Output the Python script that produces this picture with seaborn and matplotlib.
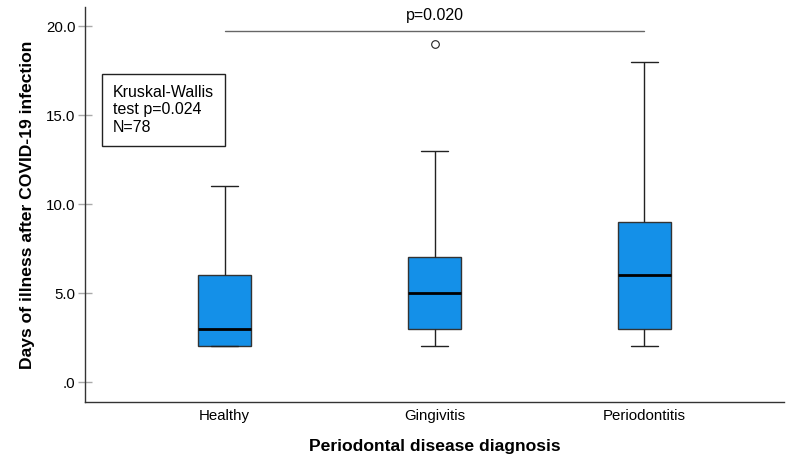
import matplotlib
matplotlib.use("Agg")
import matplotlib.pyplot as plt
import seaborn as sns
import pandas as pd
from matplotlib.ticker import FixedLocator, FixedFormatter

# Data (representative values reproducing the plotted box statistics)
categories = ["Healthy", "Gingivitis", "Periodontitis"]
healthy_days = [2, 2, 2, 3, 3, 4, 6, 6, 11]
gingivitis_days = [2, 3, 3, 4, 5, 6, 7, 13, 19]
periodontitis_days = [2, 3, 3, 5, 6, 8, 9, 12, 18]
y_ticks = [0, 5, 10, 15, 20]
y_tick_labels = [".0", "5.0", "10.0", "15.0", "20.0"]
pair_p_text = "p=0.020"
kw_text = "Kruskal-Wallis\ntest p=0.024\nN=78"
sig_level = 19.74

df = pd.DataFrame({
    "group": (["Healthy"] * len(healthy_days) + ["Gingivitis"] * len(gingivitis_days)
              + ["Periodontitis"] * len(periodontitis_days)),
    "days": healthy_days + gingivitis_days + periodontitis_days,
})

sns.set_style("white")
plt.rcParams["font.family"] = ["Liberation Sans", "DejaVu Sans"]
plt.rcParams["text.color"] = "black"
plt.rcParams["axes.labelcolor"] = "black"
plt.rcParams["xtick.color"] = "black"
plt.rcParams["ytick.color"] = "black"

fig = plt.figure(figsize=(7.97, 4.71), dpi=100)
ax = fig.add_axes([85 / 797, 69 / 471, (784 - 85) / 797, (402 - 7) / 471])

sns.boxplot(data=df, x="group", y="days", order=categories, ax=ax,
            color="#1490e8", linecolor="#333333", linewidth=1.0, width=0.25,
            saturation=1,
            medianprops=dict(color="black", linewidth=2),
            whiskerprops=dict(color="#222222", linewidth=1),
            capprops=dict(color="#222222", linewidth=1),
            flierprops=dict(marker="o", markerfacecolor="white",
                            markeredgecolor="#222222", markersize=5.5,
                            markeredgewidth=0.8))

ax.set_xlim(-0.665, 2.665)
ax.set_ylim(-1.12, 21.07)
ax.yaxis.set_major_locator(FixedLocator(y_ticks))
ax.yaxis.set_major_formatter(FixedFormatter(y_tick_labels))
ax.tick_params(axis="y", direction="inout", length=10, width=1, color="#aaaaaa",
               labelcolor="black", labelsize=10.8, pad=2, left=True)
ax.tick_params(axis="x", length=0, labelsize=10.8, pad=5, labelcolor="black")

for s in ["top", "right"]:
    ax.spines[s].set_visible(False)
for s in ["left", "bottom"]:
    ax.spines[s].set_color("#333333")
    ax.spines[s].set_linewidth(1)

ax.set_xlabel("Periodontal disease diagnosis", fontsize=12.6, fontweight="bold",
              labelpad=11.5, color="black")
ax.set_ylabel("Days of illness after COVID-19 infection", fontsize=12.6,
              fontweight="bold", labelpad=8, color="black")

# significance bar
ax.plot([0, 2], [sig_level, sig_level], color="#666666", linewidth=1)
ax.text(1, sig_level + 0.45, pair_p_text, ha="center", va="bottom", fontsize=11.5)

# Kruskal-Wallis box
ax.text(-0.531, 16.69, kw_text, ha="left", va="top", fontsize=11.5, linespacing=1.2,
        bbox=dict(boxstyle="square,pad=0.7", facecolor="white", edgecolor="#222222",
                  linewidth=1))

fig.savefig("out.png", dpi=100)
